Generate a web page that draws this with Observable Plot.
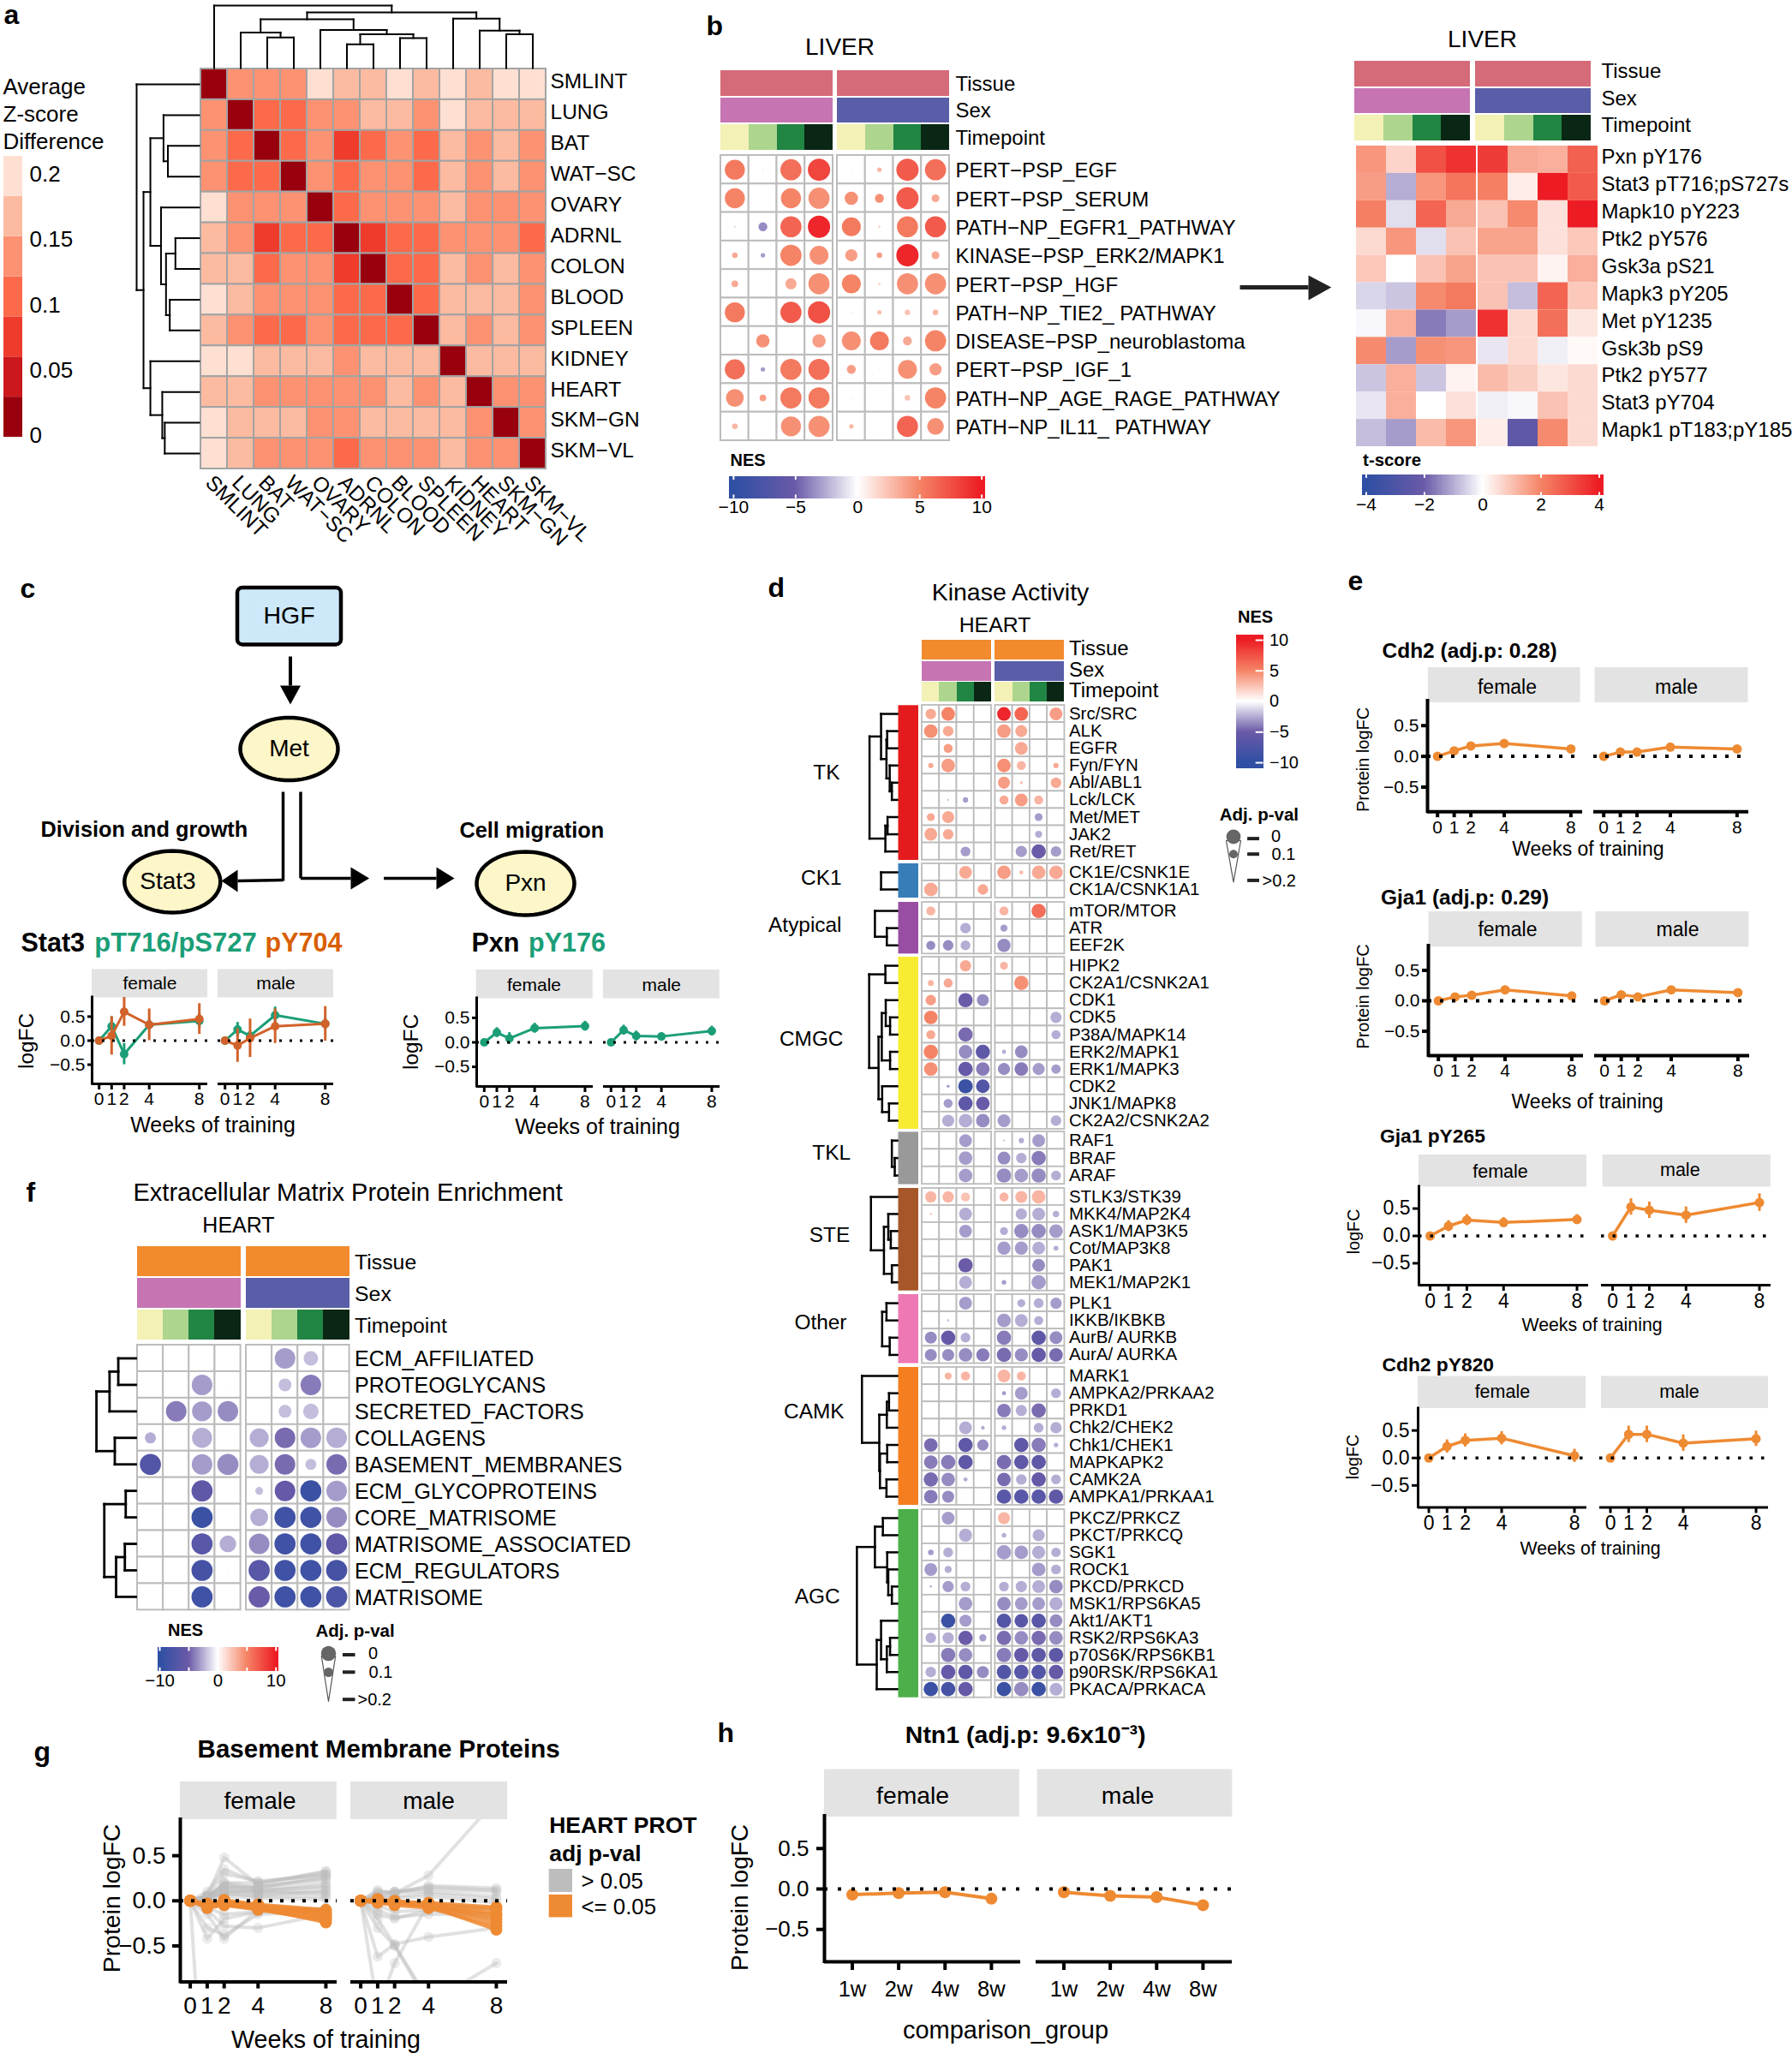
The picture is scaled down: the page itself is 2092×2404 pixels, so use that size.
<!DOCTYPE html>
<html>
<head>
<meta charset="utf-8">
<script src="https://cdn.jsdelivr.net/npm/d3@7"></script>
<script src="https://cdn.jsdelivr.net/npm/@observablehq/plot@0.6"></script>
<style>
html,body{margin:0;padding:0;background:#fff}
#page{position:relative;width:2092px;height:2404px;overflow:hidden;background:#fff}
</style>
</head>
<body>
<div id="page"></div>
<script>
const _ = null;
// ---------- panel a ----------
const tissues = ["SMLINT","LUNG","BAT","WAT−SC","OVARY","ADRNL","COLON","BLOOD","SPLEEN","KIDNEY","HEART","SKM−GN","SKM−VL"];
const tissueDiff = [
 [0,.14,.14,.14,.20,.17,.17,.20,.17,.20,.17,.20,.20],
 [.14,0,.11,.11,.14,.14,.17,.17,.14,.20,.17,.17,.17],
 [.14,.11,0,.11,.14,.08,.11,.14,.11,.17,.14,.17,.14],
 [.14,.11,.11,0,.14,.11,.14,.14,.11,.17,.14,.17,.14],
 [.20,.14,.14,.14,0,.11,.14,.14,.14,.17,.14,.14,.14],
 [.17,.14,.08,.11,.11,0,.08,.11,.11,.14,.14,.14,.11],
 [.17,.17,.11,.14,.14,.08,0,.11,.11,.17,.14,.17,.14],
 [.20,.17,.14,.14,.14,.11,.11,0,.11,.17,.17,.17,.14],
 [.17,.14,.11,.11,.14,.11,.11,.11,0,.17,.14,.17,.14],
 [.20,.20,.17,.17,.17,.14,.17,.17,.17,0,.17,.17,.17],
 [.17,.17,.14,.14,.14,.14,.14,.17,.14,.17,0,.14,.14],
 [.20,.17,.17,.17,.14,.14,.17,.17,.17,.17,.14,0,.14],
 [.20,.17,.14,.14,.14,.11,.14,.14,.14,.17,.14,.14,0]];
const tissueTreeTop = [1,0,[.89,[.78,[.57,1,[.49,2,3]],[.61,4,[.54,[.38,5,6],[.48,7,8]]]],[.79,9,[.60,10,[.54,11,12]]]]];
const tissueTreeLeft = [1,0,[.89,[.78,[.57,1,[.50,2,3]],[.61,4,[.53,[.38,5,6],[.47,7,8]]]],[.78,9,[.59,10,[.55,11,12]]]]];
const redsSteps = ["#99000d","#cb181d","#ef3b2c","#fb6a4a","#fc9272","#fcbba1","#fee0d2"];
const redsCuts = [.03,.06,.09,.12,.15,.18];

// ---------- panel b ----------
const libPathways = ["PERT−PSP_EGF","PERT−PSP_SERUM","PATH−NP_EGFR1_PATHWAY","KINASE−PSP_ERK2/MAPK1","PERT−PSP_HGF","PATH−NP_TIE2_ PATHWAY","DISEASE−PSP_neuroblastoma","PERT−PSP_IGF_1","PATH−NP_AGE_RAGE_PATHWAY","PATH−NP_IL11_ PATHWAY"];
const libNes = [
 [5.5,2,6,8,1.5,3,7,6],
 [5,_,5,4.5,4.5,4.5,7,3.5],
 [-3,-3.5,6.5,9.5,5.5,2,5.5,7],
 [3.5,-3,5,4.5,4,4,9.5,3.5],
 [3.5,_,3.5,4.5,5,2,4.5,4.5],
 [5.5,_,7,7.5,2,2.5,2.5,3],
 [_,4.5,_,4,4.5,5.5,3.5,5],
 [6,-3,5.5,6,4,1,4.5,4],
 [4.5,4,5.5,5.5,2,_,2.5,5],
 [3,_,4.5,4.5,3,_,6.5,4.5]];
const libP = [
 [.02,.19,.01,0,.19,.16,0,.01],
 [.02,_,.02,.01,.08,.12,0,.13],
 [.19,.12,.01,0,.03,.18,.01,.01],
 [.15,.16,.01,.03,.09,.15,0,.13],
 [.14,_,.1,.01,.03,.18,.01,.01],
 [.02,_,.01,0,.19,.16,.15,.15],
 [_,.08,_,.08,.03,.03,.12,.01],
 [.02,.16,.01,.01,.12,.19,.03,.09],
 [.04,.14,.01,.01,.19,_,.15,.01],
 [.15,_,.02,.01,.16,_,.01,.05]];
const sites = ["Pxn pY176","Stat3 pT716;pS727s","Mapk10 pY223","Ptk2 pY576","Gsk3a pS21","Mapk3 pY205","Met pY1235","Gsk3b pS9","Ptk2 pY577","Stat3 pY704","Mapk1 pT183;pY185"];
const siteT = [
 [1.7,.7,3,3.6,3.4,1.4,1.3,2.7],
 [1.6,-1,1.7,2.3,2.1,.3,4,2.8],
 [2.1,-.4,2.6,1.4,1,1.9,.5,4],
 [.6,1.7,-.4,1,1.5,1.5,.5,.9],
 [.9,0,1,1.5,1,1,.2,1.3],
 [-.5,-.7,1.9,2.2,1,-.8,2.6,.9],
 [-.1,1.3,-1.6,-1.2,3.6,.6,2.4,.4],
 [1.9,-1.2,1.8,1.7,-.3,.6,-.2,.1],
 [-.7,1.3,-.7,.2,1.1,.8,.4,.6],
 [-.3,1.3,0,.5,-.2,-.1,1,.6],
 [-.8,-1.2,1.1,1.7,.3,-2.4,1.9,.6]];

// ---------- panel c ----------
const weeks = [0,1,2,4,8];
const sexes = ["female","male"];
const stat3T716F = [0,.3,-.28,.33,.41], stat3T716M = [0,.23,.1,.53,.35];
const stat3T716FErr = [0,.2,.22,.1,.15], stat3T716MErr = [0,.15,.1,.17,.12];
const stat3Y704F = [0,.1,.6,.33,.45], stat3Y704M = [0,-.1,.05,.3,.35];
const stat3Y704FErr = [0,.4,.3,.33,.32], stat3Y704MErr = [0,.35,.4,.36,.36];
const pxnF = [0,.2,.08,.29,.33], pxnM = [0,.25,.13,.12,.23];
const pxnFErr = [0,.1,.12,.1,.1], pxnMErr = [0,.1,.1,.08,.1];

// ---------- panel d ----------
const tkRows = ["Src/SRC","ALK","EGFR","Fyn/FYN","Abl/ABL1","Lck/LCK","Met/MET","JAK2","Ret/RET"];
const tkNes = [[3.5,5,_,_,9.5,6.5,_,4],[4.5,3.5,_,_,4,3.5,_,_],[_,4,_,_,_,3.5,_,1],[3.5,4,_,_,4.5,3,_,3.5],[_,_,_,_,4,3,_,3.5],[_,-2,-3,_,3.5,4,3,_],[3.5,3.5,_,_,_,_,-3,_],[3.5,3.5,_,_,_,_,-2.5,1],[_,_,-3,_,_,-3,-5,-3]];
const tkP = [[.06,.02,_,_,.02,.02,_,.03],[.02,.06,_,_,.02,.04,_,_],[_,.08,_,_,_,.03,_,.19],[.13,.02,_,_,.02,.08,_,.13],[_,_,_,_,.04,.165,_,.06],[_,.175,.13,_,.08,.03,.08,_],[.095,.04,_,_,_,_,.095,_],[.03,.06,_,_,_,_,.105,.19],[_,_,.07,_,_,.05,.01,.06]];
const tkTree = [.77,[.45,0,[.30,[.28,1,2],[.21,3,[.15,4,5]]]],[.33,[.27,6,7],8]];
const ck1Rows = ["CK1E/CSNK1E","CK1A/CSNK1A1"];
const ck1Nes = [[_,_,3.5,_,4,3,3.5,3.5],[3.5,_,_,3.5,_,_,_,_]];
const ck1P = [[_,_,.03,_,.02,.15,.02,.02],[.02,_,_,.06,_,_,_,_]];
const ck1Tree = [.45,0,1];
const atypRows = ["mTOR/MTOR","ATR","EEF2K"];
const atypNes = [[3,_,_,_,3,_,6,_],[_,_,-2.5,_,-3,_,_,_],[-3.5,-3.5,-2.5,_,-3.5,_,_,_]];
const atypP = [[.08,_,_,_,.08,_,.01,_],[_,_,.06,_,.105,_,_,_],[.08,.06,.07,_,.025,_,_,_]];
const atypTree = [.62,0,[.29,1,2]];
const cmgcRows = ["HIPK2","CK2A1/CSNK2A1","CDK1","CDK5","P38A/MAPK14","ERK2/MAPK1","ERK1/MAPK3","CDK2","JNK1/MAPK8","CK2A2/CSNK2A2"];
const cmgcNes = [[_,_,3.5,_,3,_,_,1],[3,3.5,_,_,_,4.5,_,_],[4,_,-5,-3.5,_,_,_,_],[5,_,1,_,_,_,_,-2.5],[3.5,_,-4.5,_,_,_,_,-2.5],[5,_,-3.5,-6,-2.5,-3.5,_,_],[4.5,_,-5.5,-4,-3.5,-4,-3,-3],[_,-3,-9,-7,_,_,_,_],[_,-3,-6,-5,_,_,_,_],[_,-2.5,-2.5,-3.5,-3,_,_,-2.5]];
const cmgcP = [[_,_,.05,_,.095,_,_,.19],[.12,.08,_,_,_,.01,_,_],[.06,_,.01,.04,_,_,_,_],[.02,_,.19,_,_,_,_,.05],[.08,_,.01,_,_,_,_,.08],[.01,_,.02,.01,.145,.03,_,_],[.02,_,.01,.02,.04,.02,.04,.075],[_,.16,.01,.02,_,_,_,_],[_,.08,.01,.02,_,_,_,_],[_,.04,.02,.02,.03,_,_,.06]];
const cmgcTree = [.78,[.33,0,1],[.52,[.43,[.32,2,[.20,3,4]],[.20,5,6]],[.42,7,[.23,8,9]]]];
const tklRows = ["RAF1","BRAF","ARAF"];
const tklNes = [[_,_,-3,_,-2,-2.5,-3,_],[_,_,-3,_,-3.5,-2.5,-4,_],[_,_,-3,_,-3.5,-3,-3.5,-2.5]];
const tklP = [[_,_,.03,_,.175,.13,.03,_],[_,_,.02,_,.03,.06,.01,_],[_,_,.02,_,.01,.02,.01,.07]];
const tklTree = [.15,0,[.07,1,2]];
const steRows = ["STLK3/STK39","MKK4/MAP2K4","ASK1/MAP3K5","Cot/MAP3K8","PAK1","MEK1/MAP2K1"];
const steNes = [[3,3,2.5,_,3,3,3,_],[3,_,-2.5,_,_,-2.5,-2.5,-2.5],[_,_,-3,_,-2.5,-3.5,-3.5,-3],[_,_,_,_,-3,-3,-2.5,-2.5],[_,_,-5,_,_,_,-3.5,_],[_,_,-2.5,_,-3,_,-3,_]];
const steP = [[.05,.05,.08,_,.08,.04,.02,_],[.175,_,.03,_,_,.05,.03,.115],[_,_,.03,_,.095,.01,.01,.02],[_,_,_,_,.025,.025,.03,.135],[_,_,.01,_,_,_,.03,_],[_,_,.03,_,.14,_,.01,_]];
const steTree = [.73,0,[.37,[.25,1,[.18,2,3]],[.15,4,5]]];
const otherRows = ["PLK1","IKKB/IKBKB","AurB/ AURKB","AurA/ AURKA"];
const otherNes = [[_,_,-3,_,_,-2.5,-2.5,-3],[_,-2,_,_,-3,-2.5,-2.5,_],[-3.5,-5.5,-2.5,_,-4,1,-6,-3.5],[-3.5,-3.5,-3.5,-4,-4.5,-3.5,-5.5,-4.5]];
const otherP = [[_,_,.03,_,_,.095,.07,.05],[_,.17,_,_,.02,.03,.08,_],[.04,.01,.07,_,.01,.19,.01,.03],[.04,.04,.02,.025,.01,.025,.01,.02]];
const otherTree = [.42,[.30,0,1],[.21,2,3]];
const camkRows = ["MARK1","AMPKA2/PRKAA2","PRKD1","Chk2/CHEK2","Chk1/CHEK1","MAPKAPK2","CAMK2A","AMPKA1/PRKAA1"];
const camkNes = [[_,3,3,_,3,3,_,_],[_,_,_,_,-3,-3,_,-2.5],[_,_,_,_,-4,-2.5,-4.5,_],[_,_,-2.5,-2.5,-2.5,_,-2.5,-2.5],[-4.5,_,-6,-3.5,_,-6,-4,-2.5],[-4,-4,-6,_,-4.5,-6,-6,_],[-4.5,-3.5,-2.5,_,-4.5,-2.5,-5.5,-2.5],[-4,-3.5,_,_,-6.5,-6.5,-6.5,-6]];
const camkP = [[_,.105,.08,_,.03,.08,_,_],[_,_,_,_,.145,.03,_,.07],[_,_,_,_,.02,.05,.01,_],[_,_,.03,.15,.14,_,.07,.05],[.02,_,.01,.05,_,.01,.01,.14],[.02,.01,.01,_,.01,.01,.01,_],[.01,.02,.145,_,.02,.06,.01,.07],[.02,.04,_,_,.01,.01,.01,.01]];
const camkTree = [.98,0,[.50,[.29,[.23,1,2],3],[.48,[.28,4,5],[.30,6,7]]]];
const agcRows = ["PKCZ/PRKCZ","PKCT/PRKCQ","SGK1","ROCK1","PKCD/PRKCD","MSK1/RPS6KA5","Akt1/AKT1","RSK2/RPS6KA3","p70S6K/RPS6KB1","p90RSK/RPS6KA1","PKACA/PRKACA"];
const agcNes = [[_,-3,_,_,3,_,_,_],[_,_,-2.5,_,-2.5,_,-2.5,_],[-3,-2.5,_,_,-3,-3,-2.5,-2.5],[-3,-2.5,_,_,_,_,-3,-2.5],[-2.5,-3,-2.5,_,-2.5,-2.5,-2.5,-3.5],[_,_,-3,_,-3.5,-3,-3,-2.5],[_,-9,-3,_,-7,-6.5,-6.5,-3.5],[-2.5,-2.5,-5,-3,-4.5,-3.5,-4.5,-3.5],[_,-4,-3.5,_,-4,-5.5,-6,-6],[-2.5,-5.5,-6,-3.5,-7,-6.5,-7,-5.5],[-9,-8,-5.5,_,-9,-3.5,-9,-2.5]];
const agcP = [[_,.03,_,_,.04,_,_,_],[_,_,.025,_,.14,_,.04,_],[.125,.07,_,_,.01,.02,.025,.075],[.03,.105,_,_,_,_,.02,.07],[.17,.05,.07,_,.07,.05,.03,.02],[_,_,.02,_,.02,.03,.03,.025],[_,.01,.04,_,.01,.02,.01,.03],[.06,.05,.01,.105,.01,.02,.01,.02],[_,.01,.02,_,.01,.01,.01,.01],[.06,.01,.01,.04,.01,.01,.01,.01],[.01,.01,.01,_,.01,.01,.01,.03]];
const agcTree = [1.12,[.62,[.40,0,1],[.28,2,[.25,3,[.15,4,5]]]],[.57,[.45,6,[.29,[.20,7,8],9]],10]];

// ---------- panel e ----------
const cdh2F = [0,.09,.17,.21,.12], cdh2M = [0,.07,.07,.15,.12];
const gja1F = [0,.065,.09,.18,.08], gja1M = [0,.1,.065,.18,.135];
const gjaPF = [0,.18,.29,.245,.3], gjaPM = [0,.53,.47,.38,.61];
const gjaPFErr = [0,.1,.1,.09,.09], gjaPMErr = [0,.15,.15,.15,.16];
const cdhPF = [0,.21,.32,.36,.04], cdhPM = [0,.43,.43,.27,.35];
const cdhPFErr = [0,.12,.12,.12,.12], cdhPMErr = [0,.15,.15,.15,.14];

// ---------- panel f ----------
const ecmRows = ["ECM_AFFILIATED","PROTEOGLYCANS","SECRETED_FACTORS","COLLAGENS","BASEMENT_MEMBRANES","ECM_GLYCOPROTEINS","CORE_MATRISOME","MATRISOME_ASSOCIATED","ECM_REGULATORS","MATRISOME"];
const ecmNes = [[_,_,_,_,_,-3,-2,_],[_,_,-3,1,_,-2,-4,_],[_,-4,-3,-3.5,_,-2,-2,_],[-2.5,_,-2.5,_,-2.5,-4.5,-3,-2.5],[-7,_,-3,-3.5,-2.5,-4.5,-2,-4.5],[_,_,-6,_,-2,-5.5,-9,-3],[_,_,-9,_,-2.5,-8.5,-8.5,-3.5],[_,_,-6.5,-2.5,-3.5,-8.5,-8.5,-6],[_,_,-8,1,-6.5,-8.5,-8.5,-8],[_,_,-8.5,_,-5,-8.5,-8.5,-7.5]];
const ecmP = [[_,_,_,_,_,.015,.07,_],[_,_,.015,.19,_,.085,.015,_],[_,.015,.02,.015,_,.085,.06,_],[.10,_,.02,_,.03,.015,.015,.015],[.01,_,.015,.01,.03,.015,.10,.015],[_,_,.01,_,.13,.015,.01,.015],[_,_,.01,_,.04,.01,.01,.015],[_,_,.01,.05,.015,.01,.01,.01],[_,_,.01,.19,.01,.01,.01,.01],[_,_,.01,_,.01,.01,.01,.01]];
const ecmTrees = [[.90,[.60,[.40,0,1],2],[.48,3,4]],[.72,[.23,5,6],[.45,[.25,7,8],9]]];

// ---------- panel g ----------
const bmFemaleGrey = [[0,.05,.48,.18,.33],[0,.1,.35,.2,.3],[0,.05,.3,.22,.28],[0,.02,.2,.15,.25],[0,.05,.18,.12,.2],[0,.03,.15,.1,.17],[0,.03,.12,.08,.12],[0,.02,.1,.1,.08],[0,0,.08,.05,.05],[0,.02,.05,.03,.02],[0,.04,.2,.2,.32],[0,.06,.14,.16,.24],[0,.05,.16,.14,.28],[0,.03,.1,.12,.15],[0,.04,.08,.06,.1],[0,-.42,-.2,-.12,-.1],[0,-.3,-.38,-.15,-.12],[0,-.15,-.42,-.1,-.1],[0,-.1,-.28,-.3,-.15],[0,-.08,-.15,-.12,-.08],[0,-2.9,-2.5,-2,-2]];
const bmFemaleOrange = [[0,-.06,-.03,-.08,-.24],[0,-.08,-.05,-.1,-.22],[0,-.07,-.04,-.09,-.2],[0,-.05,-.03,-.08,-.18],[0,-.06,-.02,-.07,-.16],[0,-.04,-.02,-.06,-.14],[0,-.05,-.01,-.07,-.13],[0,-.03,0,-.05,-.11],[0,-.04,.01,-.04,-.1]];
const bmMaleGrey = [[0,.1,.1,.15,.12],[0,.12,.08,.17,.14],[0,.05,.1,.13,.1],[0,.08,.1,.1,.05],[0,.02,.05,.08,.02],[0,.05,.03,.05,-.02],[0,-.05,-.12,-.1,-.08],[0,-.1,-.18,-.15,-.15],[0,-.15,-.2,-.1,-.2],[0,-.62,-.48,-.4,-.3],[0,-.2,-.49,-1.1,-1],[0,-1.2,-.69,-.03,-.08],[0,.05,.08,.28,1.12],[0,-.3,-.5,-1.14,-.69]];
const bmMaleOrange = [[0,-.02,-.03,-.06,-.32],[0,-.02,-.05,-.08,-.28],[0,-.01,-.03,-.05,-.24],[0,0,-.02,-.05,-.2],[0,.01,-.02,-.06,-.16],[0,.02,-.01,-.04,-.14],[0,.01,0,-.03,-.1],[0,-.01,-.02,-.02,-.07]];

// ---------- panel h ----------
const compGroups = ["1w","2w","4w","8w"];
const ntn1F = [-.07,-.05,-.04,-.12], ntn1M = [-.04,-.085,-.1,-.2];

// ---------- shared colours ----------
const nesDomain = [-10,-5,0,5,10], tDomain = [-4,-2,0,2,4];
const divRange = ["#2e4fa3","#6b5aa8","#ffffff","#f58466","#ed1c24"];
const sexCols = {female:"#c675b2",male:"#5a5ea8"};
const timeCols = ["#f3f1b5","#add58e","#218544","#0a2715"];
const LIVER = "#d56a78", HEART = "#f28a2e", ORANGE = "#ee8a32", GREEN = "#1b9e77", DKOR = "#d95f02";
const wk = ["w1","w2","w4","w8"];
const FONT = "'Liberation Sans', Arial, sans-serif";

// ---------- helpers ----------
const page = document.getElementById("page");
const base = {margin:0, style:{fontFamily:FONT, background:"none", overflow:"visible", color:"black"}};
function put(opts,left,top){
  const el = Plot.plot({...base,...opts});
  el.style.position="absolute"; el.style.left=left+"px"; el.style.top=top+"px"; el.style.maxWidth="none";
  page.appendChild(el); return el;
}
const minus = d => String(d).replace("-","−");
const fix1 = d => d.toFixed(1).replace("-","−");
function tidyGrid(rows,a,b,ka,kb){
  return rows.flatMap((row,i)=>a[i].map((v,j)=>({row,sex:j<4?"female":"male",week:wk[j%4],[ka]:v,[kb]:b?b[i][j]:null})));
}
function treeSegs(trees){
  const segs=[];
  const walk=n=>{
    if(typeof n==="number") return {pos:n+.5,h:0};
    const [h,a,b]=n, A=walk(a), B=walk(b);
    segs.push({h1:h,p1:A.pos,h2:h,p2:B.pos},{h1:h,p1:A.pos,h2:A.h,p2:A.pos},{h1:h,p1:B.pos,h2:B.h,p2:B.pos});
    return {pos:(A.pos+B.pos)/2,h};
  };
  trees.forEach(walk); return segs;
}
function dendroLeft(trees,n,maxH,right,top,w,h,sw){
  put({width:w,height:h,x:{domain:[maxH,0],range:[0,w],axis:null},y:{domain:[0,n],range:[0,h],axis:null},
    marks:[Plot.link(treeSegs(trees),{x1:"h1",y1:"p1",x2:"h2",y2:"p2",stroke:"black",strokeWidth:sw,strokeLinecap:"square"})]},right-w,top);
}
function dendroTop(tree,n,maxH,left,bottom,w,h,sw){
  put({width:w,height:h,x:{domain:[0,n],range:[0,w],axis:null},y:{domain:[0,maxH],range:[h,0],axis:null},
    marks:[Plot.link(treeSegs([tree]),{x1:"p1",y1:"h1",x2:"p2",y2:"h2",stroke:"black",strokeWidth:sw,strokeLinecap:"square"})]},left,bottom-h);
}
const fxOpt=(fw,gap)=>({domain:sexes,axis:null,paddingInner:gap/(fw+gap),paddingOuter:0,round:false});
function anno(left,top,fw,gap,h,tissueCol,fs,pad,dy=0){
  const rows=["Tissue","Sex","Timepoint"];
  const data=sexes.flatMap(sex=>wk.flatMap((week,j)=>[
    {sex,week,row:"Tissue",c:tissueCol},{sex,week,row:"Sex",c:sexCols[sex]},{sex,week,row:"Timepoint",c:timeCols[j]}]));
  put({width:2*fw+gap+200,height:h,marginRight:200,color:{type:"identity"},fx:fxOpt(fw,gap),
    x:{domain:wk,padding:0,round:false,axis:null},y:{domain:rows,paddingInner:.05,paddingOuter:0,round:false,axis:null},
    marks:[Plot.cell(data,{x:"week",y:"row",fx:"sex",fill:"c",shapeRendering:"crispEdges"}),
      Plot.axisY({anchor:"right",tickSize:0,tickPadding:pad,fontSize:fs,dy,label:null})]},left,top);
}
function dotGrid(left,top,fw,gap,h,rows,nes,p,rMax,fs,pad,sw,dy=0){
  const data=tidyGrid(rows,nes,p,"nes","p");
  put({width:2*fw+gap+420,height:h,marginRight:420,fx:fxOpt(fw,gap),
    color:{type:"linear",domain:nesDomain,range:divRange,clamp:true},
    r:{type:"linear",domain:[.2,0],range:[0,rMax]},
    x:{domain:wk,padding:0,round:false,axis:null},y:{domain:rows,padding:0,round:false,axis:null},
    marks:[Plot.cell(data,{x:"week",y:"row",fx:"sex",fill:"white",stroke:"#bcbcbc",strokeWidth:sw}),
      Plot.dot(data.filter(d=>d.p!=null),{x:"week",y:"row",fx:"sex",r:"p",fill:"nes"}),
      Plot.axisY({anchor:"right",tickSize:0,tickPadding:pad,fontSize:fs,dy,label:null})]},left,top);
}
function colorbarH(left,top,w,h,dom,cdom,whiteTicks,ticks,fs,pad){
  const n=240, st=d3.range(n).map(i=>({a:dom[0]+(dom[1]-dom[0])*i/n,b:dom[0]+(dom[1]-dom[0])*(i+1)/n}));
  put({width:w,height:h+34,marginBottom:34,x:{domain:dom},y:{domain:[0,1],axis:null},
    color:{type:"linear",domain:cdom,range:divRange,clamp:true},
    marks:[Plot.rect(st,{x1:"a",x2:"b",y1:0,y2:1,fill:d=>(d.a+d.b)/2,shapeRendering:"crispEdges"}),
      Plot.ruleX(whiteTicks,{y1:0,y2:.16,stroke:"white",strokeWidth:2}),
      Plot.ruleX(whiteTicks,{y1:.84,y2:1,stroke:"white",strokeWidth:2}),
      Plot.axisX({ticks,tickSize:0,tickPadding:pad,fontSize:fs,tickFormat:minus,label:null})]},left,top);
}
function colorbarV(left,top,w,h,dom,ticks,fs,pad){
  const n=240, st=d3.range(n).map(i=>({a:dom[0]+(dom[1]-dom[0])*i/n,b:dom[0]+(dom[1]-dom[0])*(i+1)/n}));
  put({width:w+60,height:h,marginRight:60,y:{domain:dom},x:{domain:[0,1],axis:null},
    color:{type:"linear",domain:nesDomain,range:divRange,clamp:true},
    marks:[Plot.rect(st,{y1:"a",y2:"b",x1:0,x2:1,fill:d=>(d.a+d.b)/2,shapeRendering:"crispEdges"}),
      Plot.ruleY(ticks,{x1:.72,x2:1,stroke:"white",strokeWidth:2}),
      Plot.axisY({anchor:"right",ticks,tickSize:0,tickPadding:pad,fontSize:fs,tickFormat:minus,label:null})]},left,top);
}
function tidySeries(f,m,fe,me,xs){
  const mk=(sex,v,e)=>v.map((y,i)=>({sex,week:xs[i],v:y,lo:e?y-e[i]:y,hi:e?y+e[i]:y}));
  return [...mk("female",f,fe),...mk("male",m,me)];
}
function linePanel({x0,yTop,yBot,fw,gap,xd,xTicks=weeks,xFmt=String,xs=weeks,fs,tick=6,pad=4,ytick,ypad,sw=3,series=[],r=5,lw=3.5,errW=3,dash="3.5 10",ds=3.5,under=[],fsX}){
  const mL=90,mB=60;
  const marks=[
    ...under,
    Plot.ruleY([-.9],{stroke:"black",strokeWidth:sw}),
    Plot.ruleX([xd[0]],{fx:()=>"female",stroke:"black",strokeWidth:sw,strokeLinecap:"square"}),
    Plot.axisX({ticks:xTicks,tickFormat:xFmt,tickSize:tick,tickPadding:pad,fontSize:fsX||fs,strokeWidth:sw,label:null}),
    Plot.axisY({ticks:[-.5,0,.5],tickFormat:fix1,tickSize:ytick??tick,tickPadding:ypad??pad,fontSize:fs,strokeWidth:sw,label:null})
  ];
  series.forEach(s=>{
    const rows=tidySeries(s.f,s.m,s.fe,s.me,xs);
    marks.push(Plot.line(rows,{x:"week",y:"v",fx:"sex",stroke:s.c,strokeWidth:lw}));
    if(s.fe) marks.push(Plot.ruleX(rows,{x:"week",y1:"lo",y2:"hi",fx:"sex",stroke:s.c,strokeWidth:errW}));
    marks.push(Plot.dot(rows,{x:"week",y:"v",fx:"sex",r,fill:s.c}));
  });
  marks.push(Plot.ruleY([0],{stroke:"black",strokeWidth:ds,strokeDasharray:dash}));
  put({width:mL+2*fw+gap+6,height:yBot-yTop+mB,marginLeft:mL,marginRight:6,marginBottom:mB,
    fx:fxOpt(fw,gap),x:{domain:xd},y:{domain:[-.9,.9]},marks},x0-mL,yTop);
}
function tidyLines(arr,sex,tag){
  return arr.flatMap((v,id)=>v.map((y,i)=>({sex,week:weeks[i],v:y,id:tag+id})));
}

// ---------- overlay: strips, text, pathway diagram ----------
const strips=[
 [107,242,1131.5,1164.5],[254,389,1131.5,1164.5],[555.7,691.7,1132,1165.5],[703.8,839.8,1132,1165.5],
 [1666.8,1844.6,779,820],[1861.5,2040.4,779,820],[1667.5,1846.7,1064,1105.3],[1862.5,2041.4,1064,1105.3],
 [1656,1852,1348,1385.4],[1870.6,2066.8,1348,1385.4],[1655,1851,1606.5,1644],[1869,2064,1606.5,1644],
 [210,392.8,2080,2124],[409,592,2080,2124],[962,1189.8,2065.6,2120.9],[1210.6,1438.4,2065.6,2120.9]];
const groupBars=[[823.3,1004,"#e41a1c"],[1008,1048,"#377eb8"],[1053,1113.3,"#984ea3"],[1117,1318,"#f8ec33"],[1321.4,1382.6,"#999999"],[1387,1506.7,"#a65628"],[1511,1591.5,"#ee78b4"],[1596,1757,"#f57f20"],[1762,1981.7,"#4daf4a"]];
const texts=[];
const T=(t,x,y,size,o={})=>texts.push({t,x,y,size,bold:!!o.b,anchor:o.a||"start",rot:o.r||0,fill:o.f||"black"});
[["a",4,17],["b",824,30],["c",23,687],["d",896,686],["e",1573,678],["f",30,1392],["g",39,2045],["h",837,2023]].forEach(([l,x,y])=>T(l,x,y,32,{b:1}));
T("Average",3,101,26);T("Z-score",3,133,26);T("Difference",3,165,26);
T("LIVER",980,55,28,{a:"middle"});T("LIVER",1730,45.5,28,{a:"middle"});
T("NES",852,537,20,{b:1});T("t-score",1590.6,536.6,20.4,{b:1});
T("HGF",337,718,28.5,{a:"middle"});T("Met",337,874,28,{a:"middle"});T("Stat3",195.5,1029,28,{a:"middle"});T("Pxn",613,1031,28,{a:"middle"});
T("Division and growth",47,968,25.3,{b:1});T("Cell migration",536,969.5,25.3,{b:1});
T("Stat3",24,1100.7,30.5,{b:1});T("pT716/pS727",109.7,1100.7,31,{b:1,f:GREEN});T("pY704",309,1100.7,30.5,{b:1,f:DKOR});
T("Pxn",550,1101,30.5,{b:1});T("pY176",616.5,1101,30.5,{b:1,f:GREEN});
[[174.4,321.4,1148,21],[623,771.8,1149.4,21],[1759,1956.5,802,23],[1759.4,1958,1085,23]].forEach(([a,b,y,s])=>{T("female",a,y,s,{a:"middle"});T("male",b,y,s,{a:"middle"});});
T("female",1751,1367.5,21.5,{a:"middle"});T("male",1960.8,1365.4,21.5,{a:"middle"});
T("female",1753.4,1625,21.5,{a:"middle"});T("male",1960,1625,21.5,{a:"middle"});
T("female",303,2103,28,{a:"middle"});T("male",500,2103,28,{a:"middle"});
T("female",1065,2096.7,28.3,{a:"middle"});T("male",1316,2096.7,28.3,{a:"middle"});
T("Weeks of training",248,1313,25,{a:"middle"});T("Weeks of training",697,1315,25,{a:"middle"});
T("logFC",31,1215,24.4,{a:"middle",r:-90});T("logFC",480,1216,24.4,{a:"middle",r:-90});
T("Kinase Activity",1179,691.6,28.5,{a:"middle"});T("HEART",1161,729.4,24.8,{a:"middle"});
[["TK",980,902],["CK1",982,1025],["Atypical",982,1079.6],["CMGC",984,1212.6],["TKL",992.6,1346],["STE",991.7,1442],["Other",988,1544],["CAMK",985,1648],["AGC",980,1863.4]].forEach(([l,x,y])=>T(l,x,y,24.4,{a:"end"}));
T("NES",1465,720,20,{b:1,a:"middle"});
T("Adj. p-val",1469.4,951,20.5,{b:1,a:"middle"});T("0",1489,976.5,20,{a:"middle"});T("0.1",1498,997,20,{a:"middle"});T(">0.2",1473,1028,20);
T("Cdh2 (adj.p: 0.28)",1613,760,24.5,{b:1});T("Gja1 (adj.p: 0.29)",1611.5,1047.6,24.5,{b:1});
T("Gja1 pY265",1610.4,1326,22.8,{b:1});T("Cdh2 pY820",1613,1593,22.8,{b:1});
T("Weeks of training",1853.4,991.6,23,{a:"middle"});T("Weeks of training",1852.7,1286,23,{a:"middle"});
T("Weeks of training",1858,1547,21.3,{a:"middle"});T("Weeks of training",1856,1807.5,21.3,{a:"middle"});
T("Protein logFC",1591,886.4,20,{a:"middle",r:-90});T("Protein logFC",1591,1163,20,{a:"middle",r:-90});
T("logFC",1580.5,1437.4,19.7,{a:"middle",r:-90});T("logFC",1578.7,1700.5,19.7,{a:"middle",r:-90});
T("Extracellular Matrix Protein Enrichment",405.6,1392.4,29,{a:"middle"});T("HEART",278,1430,25,{a:"middle"});
T("NES",216,1903,20,{b:1,a:"middle"});T("Adj. p-val",414,1904,20.5,{b:1,a:"middle"});
T("0",435,1930,20,{a:"middle"});T("0.1",444,1952,20,{a:"middle"});T(">0.2",417,1984,20);
T("Basement Membrane Proteins",441.6,2042,29.5,{b:1,a:"middle"});
T("Protein logFC",130,2216,28.4,{a:"middle",r:-90});T("Weeks of training",380,2381,28.7,{a:"middle"});
T("HEART PROT",640.7,2131,26.5,{b:1});T("adj p-val",640.7,2164,26.5,{b:1});T("> 0.05",678,2196,25.8);T("<= 0.05",678,2226,25.8);
T("Ntn1 (adj.p: 9.6x10⁻³)",1196.7,2025,28.5,{b:1,a:"middle"});T("comparison_group",1173.5,2370,29,{a:"middle"});T("Protein logFC",863.7,2215,28,{a:"middle",r:-90});

const ell=(cx,cy,rx,ry)=>d3.range(73).map(i=>[cx+rx*Math.cos(i*Math.PI/36),cy+ry*Math.sin(i*Math.PI/36)]);
const polys=[
 {p:ell(337,874,57,36.6),fill:"#fdf6c9",stroke:"black",sw:4.5},
 {p:ell(200.8,1029,56,36),fill:"#fdf6c9",stroke:"black",sw:4.5},
 {p:ell(613,1031,57,37),fill:"#fdf6c9",stroke:"black",sw:4.5},
 {p:[[1527,321],[1553.7,335],[1527,350],[1527,321]],fill:"#222",stroke:"none",sw:0},
 {p:[[326.5,800],[350.5,800],[338.5,822],[326.5,800]],fill:"black",stroke:"none",sw:0},
 {p:[[277,1015],[277,1041],[258,1028],[277,1015]],fill:"black",stroke:"none",sw:0},
 {p:[[409,1012],[409,1038],[430.6,1025],[409,1012]],fill:"black",stroke:"none",sw:0},
 {p:[[509,1012],[509,1038],[530,1025],[509,1012]],fill:"black",stroke:"none",sw:0},
 {p:[[1431,981],[1448,981],[1439.5,1029.5],[1431,981]],fill:"none",stroke:"#555",sw:1.2},
 {p:[[374.8,1933],[391.2,1933],[383,1986],[374.8,1933]],fill:"none",stroke:"#555",sw:1.2}];
const segs=[
 [1447,335,1527,335,5,"#222"],[338.5,766,338.5,800,4,"black"],[330,924,330,1028,3.5,"black"],[330,1027,277,1028,3.5,"black"],
 [350.5,924,350.5,1025,3.5,"black"],[350.5,1025,409,1025,3.5,"black"],[447.6,1025,509,1025,3.5,"black"],
 [1455.6,978.6,1469.5,978.6,4,"#222"],[1455.6,996.7,1469.5,996.7,4,"#222"],[1455.6,1027.4,1469.5,1027.4,4,"#222"],
 [399.5,1931.5,414,1931.5,4,"#222"],[399.5,1951.8,414,1951.8,4,"#222"],[399.5,1983.7,414,1983.7,4,"#222"]];
const legendDots=[[1439.5,976.5,8.4],[1439.5,996.7,5],[383,1930,8.7],[383,1952,5.5]];
const textMarks=[];
for(const bold of [false,true]) for(const anchor of ["start","middle","end"]){
  const rows=texts.filter(d=>d.bold===bold&&d.anchor===anchor);
  if(rows.length) textMarks.push(Plot.text(rows,{x:"x",y:"y",text:"t",fontSize:"size",fontWeight:bold?"bold":"normal",textAnchor:anchor,lineAnchor:"middle",rotate:"rot",fill:d=>d.fill}));
}
put({width:2092,height:2404,x:{domain:[0,2092],range:[0,2092],axis:null},y:{domain:[0,2404],range:[0,2404],axis:null},color:{type:"identity"},r:{type:"identity"},
 marks:[
  Plot.rect(strips,{x1:d=>d[0],x2:d=>d[1],y1:d=>d[2],y2:d=>d[3],fill:"#e3e3e3"}),
  Plot.rect(groupBars,{x1:()=>1048.5,x2:()=>1072,y1:d=>d[0],y2:d=>d[1],fill:d=>d[2]}),
  Plot.rect([0],{x1:()=>277,x2:()=>398,y1:()=>686,y2:()=>752.5,fill:"#cde9f9",stroke:"black",strokeWidth:4.5,rx:6}),
  Plot.rect([0],{x1:()=>640.7,x2:()=>668,y1:()=>2182,y2:()=>2209,fill:"#bdbdbd"}),
  Plot.rect([0],{x1:()=>640.7,x2:()=>668,y1:()=>2212,y2:()=>2238.4,fill:ORANGE}),
  ...polys.map(o=>Plot.line(o.p,{x:d=>d[0],y:d=>d[1],fill:o.fill,stroke:o.stroke,strokeWidth:o.sw})),
  Plot.link(segs,{x1:d=>d[0],y1:d=>d[1],x2:d=>d[2],y2:d=>d[3],strokeWidth:d=>d[4],stroke:d=>d[5]}),
  Plot.dot(legendDots,{x:d=>d[0],y:d=>d[1],r:d=>d[2],fill:"#666"}),
  ...textMarks
 ]},0,0);

// ---------- panel a ----------
const aData=tissues.flatMap((row,i)=>tissues.map((col,j)=>({row,col,v:tissueDiff[i][j]})));
put({width:403+170,height:467+110,marginRight:170,marginBottom:110,
  color:{type:"threshold",domain:redsCuts,range:redsSteps},
  x:{domain:tissues,padding:0,round:false,axis:null},y:{domain:tissues,padding:0,round:false,axis:null},
  marks:[Plot.cell(aData,{x:"col",y:"row",fill:"v",stroke:"#a3a3a3",strokeWidth:2}),
    Plot.axisY({anchor:"right",tickSize:0,tickPadding:5,fontSize:24.5,dy:-3,label:null}),
    Plot.axisX({tickRotate:45,tickSize:0,tickPadding:12,fontSize:24.5,textAnchor:"start",dx:-6,label:null})]},234,80.4);
dendroTop(tissueTreeTop,13,1,234,79,403,73,2);
dendroLeft([tissueTreeLeft],13,1,232,80.4,73,467,2);
const aSteps=redsSteps.map((c,i)=>({a:-.0014+i*.0308,b:-.0014+(i+1)*.0308,c}));
put({width:22+60,height:328,marginRight:60,color:{type:"identity"},x:{domain:[0,1],axis:null},y:{domain:[-.0014,.2142]},
  marks:[Plot.rect(aSteps,{y1:"a",y2:"b",x1:0,x2:1,fill:"c"}),
    Plot.axisY({anchor:"right",ticks:[0,.05,.1,.15,.2],tickFormat:d=>String(d),tickSize:0,tickPadding:8,fontSize:26,label:null})]},4,182.4);

// ---------- panel b ----------
anno(841,82,131,5,93,LIVER,24,7,0.5);
dotGrid(841,181,131,5,333,libPathways,libNes,libP,13,24,7,2,1.5);
colorbarH(851,555.5,299,25.5,[-10.34,10.3],nesDomain,nesDomain,nesDomain,21,2);
anno(1581,71,135,6,93,LIVER,24,12,-3);
const tData=tidyGrid(sites,siteT,null,"t","_x");
put({width:280+2+300,height:351,marginRight:300,fx:fxOpt(140,2),
  color:{type:"linear",domain:tDomain,range:divRange,clamp:true},
  x:{domain:wk,padding:0,round:false,axis:null},y:{domain:sites,padding:0,round:false,axis:null},
  marks:[Plot.cell(tData,{x:"week",y:"row",fx:"sex",fill:"t"}),
    Plot.axisY({anchor:"right",tickSize:0,tickPadding:4,fontSize:24,dy:-3,label:null})]},1583,170);
colorbarH(1589.5,553.6,282,24.4,[-4.13,4.16],tDomain,tDomain,tDomain,21,2);

// ---------- panel c ----------
linePanel({x0:107,yTop:1164,yBot:1265,fw:135,gap:12,xd:[-.56,8.67],fs:21,tick:7,pad:3,ytick:5,ypad:3,r:5,lw:3,
  series:[{c:GREEN,f:stat3T716F,m:stat3T716M,fe:stat3T716FErr,me:stat3T716MErr},{c:"#d2622a",f:stat3Y704F,m:stat3Y704M,fe:stat3Y704FErr,me:stat3Y704MErr}],dash:"3 9",ds:3});
linePanel({x0:555.7,yTop:1165,yBot:1268,fw:136,gap:12,xd:[-.6,8.65],fs:21,tick:7,pad:3,ytick:5,ypad:3,r:5,lw:3,
  series:[{c:GREEN,f:pxnF,m:pxnM,fe:pxnFErr,me:pxnMErr}],dash:"3 9",ds:3});

// ---------- panel d ----------
[[tkRows,tkNes,tkP,tkTree,823.3,1004],[ck1Rows,ck1Nes,ck1P,ck1Tree,1008,1048],[atypRows,atypNes,atypP,atypTree,1053,1113.3],
 [cmgcRows,cmgcNes,cmgcP,cmgcTree,1117,1318],[tklRows,tklNes,tklP,tklTree,1321.4,1382.6],[steRows,steNes,steP,steTree,1387,1506.7],
 [otherRows,otherNes,otherP,otherTree,1511,1591.5],[camkRows,camkNes,camkP,camkTree,1596,1757],[agcRows,agcNes,agcP,agcTree,1762,1981.7]
].forEach(([rows,nes,p,tree,y0,y1])=>{
  dotGrid(1076,y0,81,4.4,y1-y0,rows,nes,p,8.8,20.5,5,1.8);
  dendroLeft([tree],rows.length,2.376,1047,y0,100,y1-y0,2.5);
});
anno(1076,746.7,81,4.4,72.3,HEART,24,5,-1.5);
colorbarV(1443,741,31.5,155.5,[-10.9,10.84],nesDomain,20,7);

// ---------- panel e ----------
linePanel({x0:1666,yTop:817.8,yBot:947,fw:181,gap:13,xd:[-.6,8.7],fs:21,tick:7,pad:3,r:5.5,lw:3.5,sw:4,series:[{c:ORANGE,f:cdh2F,m:cdh2M}],dash:"4 10",ds:4});
linePanel({x0:1666.8,yTop:1104,yBot:1232,fw:181,gap:13,xd:[-.6,8.7],fs:21,tick:7,pad:3,r:5.5,lw:3.5,sw:4,series:[{c:ORANGE,f:gja1F,m:gja1M}],dash:"4 10",ds:4});
linePanel({x0:1656,yTop:1385,yBot:1500,fw:198,gap:15,xd:[-.61,8.63],fs:23,tick:7,pad:3,r:5.5,lw:3.5,series:[{c:ORANGE,f:gjaPF,m:gjaPM,fe:gjaPFErr,me:gjaPMErr}],dash:"3.5 10",ds:3.5});
linePanel({x0:1655,yTop:1644,yBot:1759.5,fw:197,gap:15,xd:[-.59,8.68],fs:23,tick:7,pad:3,r:5.5,lw:3.5,series:[{c:ORANGE,f:cdhPF,m:cdhPM,fe:cdhPFErr,me:cdhPMErr}],dash:"3.5 10",ds:3.5});

// ---------- panel f ----------
anno(160,1455,120.6,6.4,108.7,HEART,24.8,6,1.5);
dotGrid(160,1569.6,120.6,6.4,309.4,ecmRows,ecmNes,ecmP,13,25,6,2,1.5);
dendroLeft(ecmTrees,10,1.96,158,1569.6,100,309.4,2.8);
colorbarH(183.7,1922.7,140.8,28.3,[-10.3,10.45],nesDomain,nesDomain,[-10,0,10],20.5,3);

// ---------- panel g ----------
const greyRows=[...tidyLines(bmFemaleGrey,"female","fg"),...tidyLines(bmMaleGrey,"male","mg")];
const orRows=[...tidyLines(bmFemaleOrange,"female","fo"),...tidyLines(bmMaleOrange,"male","mo")];
linePanel({x0:210,yTop:2124,yBot:2313.6,fw:183,gap:16,xd:[-.586,8.66],fs:28,tick:8,pad:9,ytick:9,ypad:8,sw:4,dash:"4 9",ds:4,
  under:[
   Plot.line(greyRows,{x:"week",y:"v",z:"id",fx:"sex",stroke:"#bdbdbd",strokeOpacity:.45,strokeWidth:4,clip:true}),
   Plot.dot(greyRows,{x:"week",y:"v",fx:"sex",r:6,fill:"#bdbdbd",fillOpacity:.3,clip:true}),
   Plot.line(orRows,{x:"week",y:"v",z:"id",fx:"sex",stroke:ORANGE,strokeOpacity:.85,strokeWidth:4}),
   Plot.dot(orRows,{x:"week",y:"v",fx:"sex",r:7,fill:ORANGE})
  ]});

// ---------- panel h ----------
linePanel({x0:962.4,yTop:2120,yBot:2290,fw:229,gap:18,xd:[.4,4.63],xs:[1,2,3,4],xTicks:[1,2,3,4],xFmt:i=>compGroups[i-1],fs:26,fsX:25.5,tick:10,pad:12,ytick:9,ypad:9,sw:4,r:7,lw:4,dash:"4 12",ds:4,
  series:[{c:ORANGE,f:ntn1F,m:ntn1M}]});
</script>
</body>
</html>
